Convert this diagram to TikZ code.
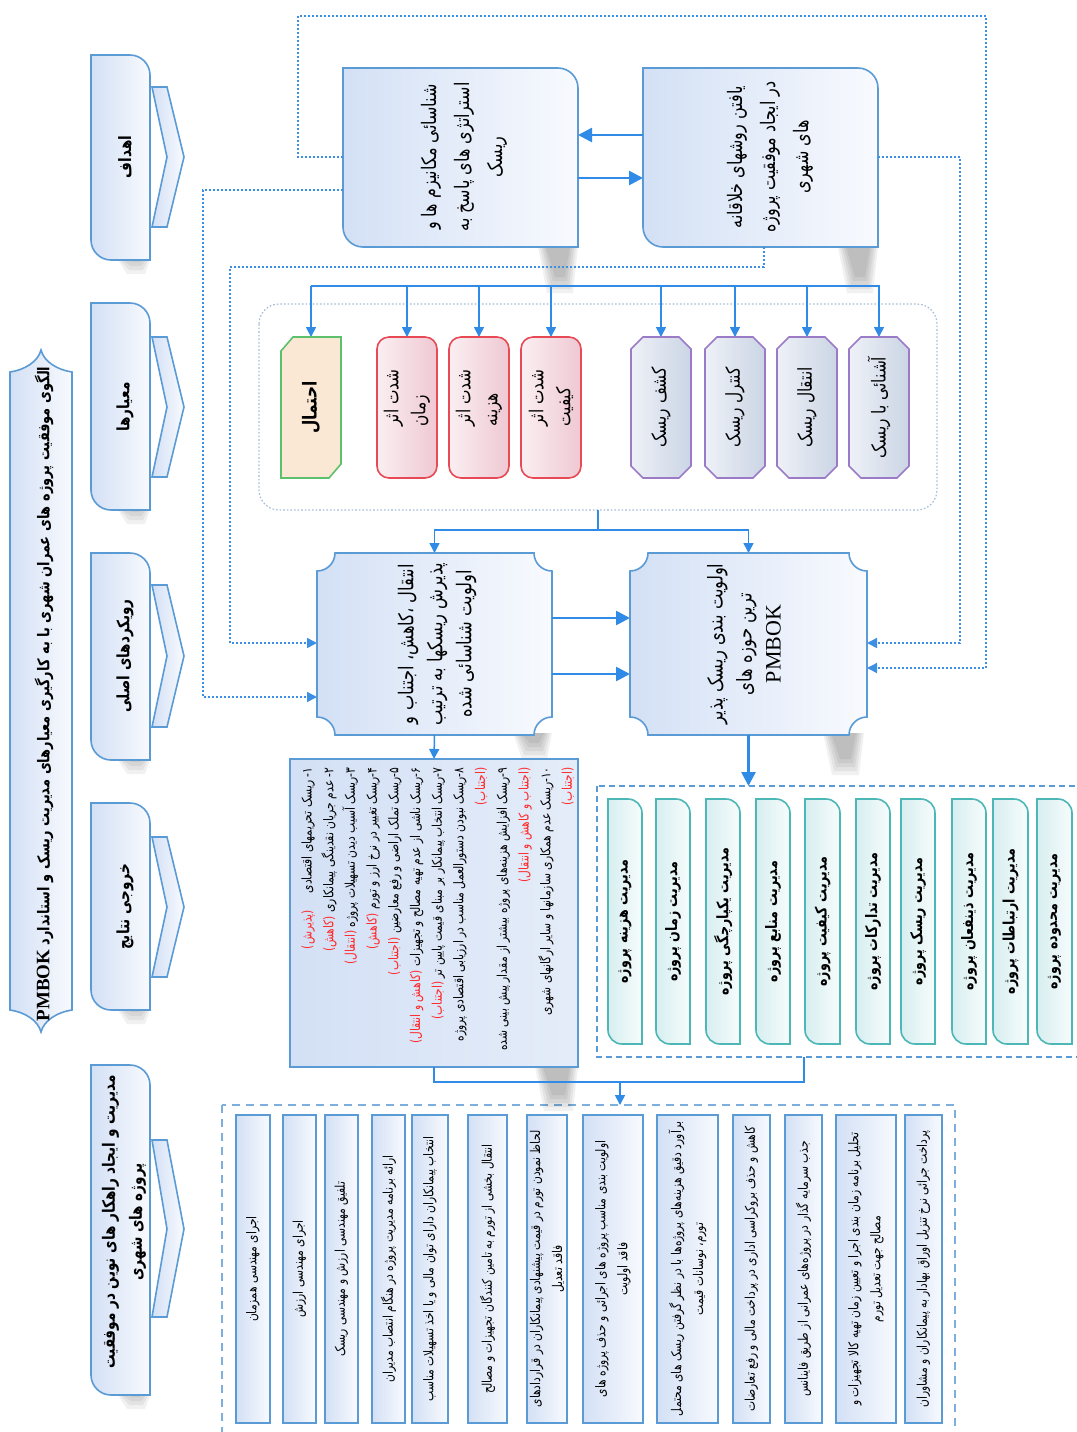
\documentclass[tikz,border=0pt]{standalone}
\usepackage{fontspec}
\usetikzlibrary{arrows.meta,fit}
\TeXXeTstate=1
\newfontfamily\fa[Script=Arabic,FakeStretch=0.8]{DejaVu Sans}
\newfontfamily\fared[Script=Arabic,FakeStretch=0.8,Color=FF2A2A]{DejaVu Sans}
\newfontfamily\latn{Liberation Serif}
\newcommand\rtxt[1]{\beginR#1\endR}
\definecolor{lineblue}{HTML}{2F8BE6}
\definecolor{dotblue}{HTML}{3C8FE2}
\definecolor{bord}{HTML}{5B9BD5}
\definecolor{fillA}{HTML}{D3E0F5}
\definecolor{fillB}{HTML}{F8FAFE}
\definecolor{redbd}{HTML}{E84A55}
\definecolor{redA}{HTML}{FAEFF2}
\definecolor{redB}{HTML}{EFC8D2}
\definecolor{purbd}{HTML}{9B7BC8}
\definecolor{purA}{HTML}{EEF1F7}
\definecolor{purB}{HTML}{CBD5E5}
\definecolor{grnbd}{HTML}{5CC06C}
\definecolor{beige}{HTML}{FBE8D4}
\definecolor{tealbd}{HTML}{4DB6B6}
\definecolor{tealA}{HTML}{D7EEF0}
\definecolor{tealB}{HTML}{F7FCFC}
\definecolor{contd}{HTML}{A5BCDA}
\newcommand\rd[1]{{\fared #1}}
\newcommand\area[5]{\path (#2,#3) coordinate (#1-a) (#4,#5) coordinate (#1-b);\node[inner sep=0pt,outer sep=0pt,fit=(#1-a)(#1-b)] (#1) {};}
\newcommand\shTRBL[6]{\path[#1] (#2,#3) -- ({#4-#6},#3) .. controls ({#4-0.45*#6},#3) and (#4,{#3+0.45*#6}) .. (#4,{#3+#6}) -- (#4,#5) -- ({#2+#6},#5) .. controls ({#2+0.45*#6},#5) and (#2,{#5-0.45*#6}) .. (#2,{#5-#6}) -- cycle;}
\newcommand\shNotch[6]{\path[#1] ({#2+#6},#3) -- ({#4-#6},#3) .. controls ({#4-#6},{#3+0.55*#6}) and ({#4-0.55*#6},{#3+#6}) .. (#4,{#3+#6}) -- (#4,{#5-#6}) .. controls ({#4-0.55*#6},{#5-#6}) and ({#4-#6},{#5-0.55*#6}) .. ({#4-#6},#5) -- ({#2+#6},#5) .. controls ({#2+#6},{#5-0.55*#6}) and ({#2+0.55*#6},{#5-#6}) .. (#2,{#5-#6}) -- (#2,{#3+#6}) .. controls ({#2+0.55*#6},{#3+#6}) and ({#2+#6},{#3+0.55*#6}) .. ({#2+#6},#3) -- cycle;}
\newcommand\shOct[6]{\path[#1] ({#2+#6},#3) -- ({#4-#6},#3) -- (#4,{#3+#6}) -- (#4,{#5-#6}) -- ({#4-#6},#5) -- ({#2+#6},#5) -- (#2,{#5-#6}) -- (#2,{#3+#6}) -- cycle;}
\newcommand\chev[4]{\path[#1] (152,#2) -- (167,#2) -- (184,#4) -- (167,#3) -- (152,#3) -- (167,#4) -- cycle;}
% soft shadow below a box edge: x1 x2 y0 depth
\newcommand\shd[4]{\foreach \k in {0,1,2,3,4} {\fill[black,opacity=0.055] ({#1+2*\k},#3) -- ({#2-2*\k},#3) -- ({#2-5-2*\k},{#3+#4-4*\k}) -- ({#1+9+2*\k},{#3+#4-4*\k}) -- cycle;}}
\tikzset{
 vt/.style={rotate=90,align=center,inner sep=0pt},
 bluebox/.style={draw=bord,line width=0.8pt,left color=fillA,right color=fillB},
 redbox/.style={draw=redbd,line width=0.8pt,left color=redA,right color=redB,rounded corners=6pt},
 purbox/.style={draw=purbd,line width=0.8pt,left color=purA,right color=purB},
 tealbox/.style={draw=tealbd,line width=0.8pt,left color=tealA,right color=tealB},
 botbox/.style={draw=bord,line width=1pt,left color=fillA,right color=fillB},
 thk/.style={draw=lineblue,line width=1.3pt,-{Triangle[length=7pt,width=7pt]}},
 thn/.style={draw=lineblue,line width=0.75pt,-{Triangle[length=5pt,width=5pt]}},
 thl/.style={draw=lineblue,line width=0.75pt},
 dotl/.style={draw=dotblue,line width=0.75pt,dash pattern=on 0.9pt off 1.1pt},
 dota/.style={dotl,-{Triangle[length=5pt,width=5pt]}},
 ftitle/.style={font={\fa\bfseries\fontsize{8.1}{12}\selectfont}},
 fcol/.style={font={\fa\bfseries\fontsize{8.5}{13.5}\selectfont}},
 ftop/.style={font={\fa\fontsize{10}{16.5}\selectfont}},
 fmid/.style={font={\fa\fontsize{10.2}{14.5}\selectfont}},
 frisk/.style={font={\fa\fontsize{9.6}{13.5}\selectfont}},
 flist/.style={font={\fa\fontsize{6.7}{10.85}\selectfont}},
 fgrn/.style={font={\fa\bfseries\fontsize{7.9}{10}\selectfont}},
 fbot/.style={font={\fa\fontsize{6.7}{11}\selectfont}},
}
\begin{document}
\begin{tikzpicture}[x=0.5pt,y=-0.5pt]
\useasboundingbox (0,0) rectangle (1077,1432);
\clip (0,0) rectangle (1077,1432);
\fill[white] (0,0) rectangle (1077,1432);

% ---------- title banner ----------
\path[draw=bord,line width=0.8pt,left color=fillA,right color=fillB] (10,372) .. controls (24,370) and (38,362) .. (41,350) .. controls (44,362) and (58,370) .. (72,372) -- (72,1010) .. controls (58,1012) and (44,1020) .. (41,1032) .. controls (38,1020) and (24,1012) .. (10,1010) -- cycle;
\area{title}{10}{350}{72}{1032}
\node[vt,ftitle] (titletext) at (44,694) {\rtxt{الگوی موفقیت پروژه های عمران شهری با به کارگیری معیارهای مدیریت ریسک و استاندارد \beginL{\latn\bfseries\fontsize{9.5}{12}\selectfont PMBOK}\endL}};

% ---------- left column ----------
\shd{118}{150}{260}{14}\shd{118}{150}{510}{14}\shd{118}{150}{760}{14}\shd{118}{150}{1010}{14}\shd{118}{150}{1395}{14}
\shTRBL{bluebox}{91}{55}{150}{260}{20}\chev{bluebox}{87}{227}{157}
\shTRBL{bluebox}{91}{303}{150}{510}{20}\chev{bluebox}{337}{477}{407}
\shTRBL{bluebox}{91}{553}{150}{760}{20}\chev{bluebox}{585}{727}{656}
\shTRBL{bluebox}{91}{803}{150}{1010}{20}\chev{bluebox}{837}{977}{907}
\shTRBL{bluebox}{91}{1065}{150}{1395}{20}\chev{bluebox}{1140}{1317}{1229}
\area{g1}{91}{55}{150}{260}\area{g2}{91}{303}{150}{510}\area{g3}{91}{553}{150}{760}\area{g4}{91}{803}{150}{1010}\area{g5}{91}{1065}{150}{1395}
\node[vt,fcol] (g1t) at (125,157) {\rtxt{اهداف}};
\node[vt,fcol] (g2t) at (125,407) {\rtxt{معیارها}};
\node[vt,fcol] (g3t) at (125,656) {\rtxt{رویکردهای اصلی}};
\node[vt,fcol] (g4t) at (125,907) {\rtxt{خروجی نتایج}};
\node[vt,fcol] (g5t) at (124,1222) {\rtxt{مدیریت و ایجاد راهکار های نوین در موفقیت}\\\rtxt{پروژه های شهری}};

% ---------- containers ----------
\area{RG}{259}{304}{937}{510}
\draw[contd,line width=0.6pt,dash pattern=on 0.8pt off 1pt,rounded corners=10pt] (RG-a) rectangle (RG-b);
\area{GC}{597}{786}{1085}{1057}
\draw[bord,line width=0.7pt,dash pattern=on 3pt off 2pt] (GC-a) rectangle (GC-b);
\area{BC}{222}{1105}{955}{1445}
\draw[bord!80,line width=0.9pt,dash pattern=on 4pt off 3pt] (BC-a) rectangle (BC-b);

% ---------- soft shadows ----------
\shd{538}{578}{247}{46}
\shd{838}{878}{247}{46}
\shd{513}{552}{733}{26}
\shd{823}{864}{733}{42}
\shd{535}{578}{1067}{44}

% ---------- top boxes ----------
\area{TL}{343}{68}{578}{247}
\area{TR}{643}{68}{878}{247}
\shTRBL{bluebox}{343}{68}{578}{247}{20}
\shTRBL{bluebox}{643}{68}{878}{247}{20}
\node[vt,ftop] (TLt) at (464,157) {\rtxt{شناسائی مکانیزم ها و}\\\rtxt{استراتژی های پاسخ به}\\\rtxt{ریسک}};
\node[vt,ftop] (TRt) at (770,157) {\rtxt{یافتن روشهای خلاقانه}\\\rtxt{در ایجاد موفقیت پروژه}\\\rtxt{های شهری}};
\draw[thk] (TR.west |- 0,135) -- (TL.east |- 0,135);
\draw[thk] (TL.east |- 0,178) -- (TR.west |- 0,178);

% ---------- dotted feedback connectors ----------
\area{ML}{317}{553}{552}{735}
\area{MR}{630}{553}{867}{735}
\draw[dota] (TL.west |- 0,157) -- (298,157) -- (298,16) -- (986,16) -- (986,668) -- (MR.east |- 0,668);
\draw[dota] (TL.west |- 0,190) -- (203,190) -- (203,697) -- (ML.west |- 0,697);
\draw[dota] (TR.east |- 0,157) -- (960,157) -- (960,643) -- (MR.east |- 0,643);
\draw[dota] (TR.south -| 764,0) -- (764,267) -- (230,267) -- (230,643) -- (ML.west |- 0,643);

% ---------- risk boxes ----------
\area{rp}{281}{337}{341}{478}
\area{rz}{377}{337}{437}{478}
\area{rh}{449}{337}{509}{478}
\area{rk}{521}{337}{581}{478}
\area{uk}{631}{337}{691}{478}
\area{uc}{705}{337}{765}{478}
\area{ut}{777}{337}{837}{478}
\area{ua}{849}{337}{909}{478}
\coordinate (busL) at (311,286);
\coordinate (busR) at (880,286);
\draw[thl] (busL) -- (busR);
\foreach \b in {rp,rz,rh,rk,uk,uc,ut,ua} {\draw[thn] (\b.north |- busL) -- (\b.north);}
\path[draw=grnbd,line width=0.8pt,fill=beige] (293,337) -- (341,337) -- (341,464) -- (329,478) -- (281,478) -- (281,351) -- cycle;
\draw[redbox] (rz-a) rectangle (rz-b);
\draw[redbox] (rh-a) rectangle (rh-b);
\draw[redbox] (rk-a) rectangle (rk-b);
\shOct{purbox}{631}{337}{691}{478}{12}
\shOct{purbox}{705}{337}{765}{478}{12}
\shOct{purbox}{777}{337}{837}{478}{12}
\shOct{purbox}{849}{337}{909}{478}{12}
\node[vt,font={\fa\bfseries\fontsize{9.6}{13}\selectfont}] (rpt) at (rp) {\rtxt{احتمال}};
\node[vt,frisk,align=left] (rzt) at (407,398) {\rtxt{شدت اثر}\\\rtxt{زمان}};
\node[vt,frisk,align=left] (rht) at (479,398) {\rtxt{شدت اثر}\\\rtxt{هزینه}};
\node[vt,frisk,align=left] (rkt) at (551,398) {\rtxt{شدت اثر}\\\rtxt{کیفیت}};
\node[vt,frisk] (ukt) at (uk) {\rtxt{کشف ریسک}};
\node[vt,frisk] (uct) at (uc) {\rtxt{کنترل ریسک}};
\node[vt,frisk] (utt) at (ut) {\rtxt{انتقال ریسک}};
\node[vt,frisk] (uat) at (ua) {\rtxt{آشنائی با ریسک}};

% ---------- middle boxes ----------
\coordinate (split) at (598,530);
\draw[thl] (RG.south) -- (split);
\draw[thn] (split) -| (ML.north);
\draw[thn] (split) -| (MR.north);
\shNotch{bluebox}{317}{553}{552}{735}{18}
\shNotch{bluebox}{630}{553}{867}{735}{18}
\node[vt,fmid] (MLt) at (437,644) {\rtxt{انتقال ،کاهش، اجتناب و}\\\rtxt{پذیرش ریسکها به ترتیب}\\\rtxt{اولویت شناسائی شده}};
\node[vt,fmid] (MRt) at (744,644) {\rtxt{اولویت بندی ریسک پذیر}\\\rtxt{ترین حوزه های}\\{\latn\fontsize{11}{14}\selectfont PMBOK}};
\draw[thk] (ML.east |- 0,618) -- (MR.west |- 0,618);
\draw[thk] (ML.east |- 0,674) -- (MR.west |- 0,674);

% ---------- risk list ----------
\area{RL}{290}{759}{578}{1067}
\draw[thn] (ML.south) -- (RL.north);
\draw[draw=bord,line width=1pt,left color=fillA,right color=fillA!60] (RL-a) rectangle (RL-b);
\node[vt,flist,align=right,anchor=north east] (RLt) at (301,767) {%
\rtxt{۱- ریسک تحریمهای اقتصادی \quad\rd{(پذیرش)}}\\
\rtxt{۲- عدم جریان نقدینگی پیمانکاری \rd{(کاهش)}}\\
\rtxt{۳-ریسک آسیب دیدن تسهیلات پروژه \rd{(انتقال)}}\\
\rtxt{۴-ریسک تغییر در نرخ ارز و تورم \rd{(کاهش)}}\\
\rtxt{۵-ریسک تملک اراضی و رفع معارضین \rd{(اجتناب)}}\\
\rtxt{۶-ریسک ناشی از عدم تهیه مصالح و تجهیزات \rd{(کاهش و انتقال)}}\\
\rtxt{۷-ریسک انتخاب پیمانکار بر مبنای قیمت پایین تر \rd{(اجتناب)}}\\
\rtxt{۸-ریسک نبودن دستورالعمل مناسب در ارزیابی اقتصادی پروژه}\\
\rtxt{\rd{(اجتناب)}}\\
\rtxt{۹-ریسک افزایش هزینه^^^^200cهای پروژه بیشتر از مقدار پیش بینی شده}\\
\rtxt{\rd{(اجتناب و کاهش و انتقال)}}\\
\rtxt{۱۰-ریسک عدم همکاری سازمانها و سایر ارگانهای شهری}\\
\rtxt{\rd{(اجتناب)}}};

% ---------- PMBOK areas ----------
\draw[thk] (MR.south) -- (MR.south |- GC.north);
\foreach \n/\xa/\xb/\t in {k1/608/642/{مدیریت هزینه پروژه},k2/656/690/{مدیریت زمان پروژه},k3/706/740/{مدیریت یکپارچگی پروژه},k4/756/790/{مدیریت منابع پروژه},k5/805/840/{مدیریت کیفیت پروژه},k6/856/890/{مدیریت تدارکات پروژه},k7/901/935/{مدیریت ریسک پروژه},k8/952/986/{مدیریت ذینفعان پروژه},k9/993/1028/{مدیریت ارتباطات پروژه},k10/1037/1072/{مدیریت محدوده پروژه}} {
 \area{\n}{\xa}{799}{\xb}{1044}
 \shTRBL{tealbox}{\xa}{799}{\xb}{1044}{14}
 \node[vt,fgrn] (\n t) at (\n) {\rtxt{\t}};
}

% ---------- joins to solutions ----------
\coordinate (jL) at (434,1082);
\coordinate (jR) at (804,1082);
\draw[thl] (RL.south) -- (jL) -- (jR) -- (jR |- GC.south);
\coordinate (jM) at (620,1082);
\draw[thn] (jM) -- (jM |- BC.north);

% ---------- solutions ----------
\foreach \n/\xa/\xb/\t in {
 s1/236/270/{\rtxt{اجرای مهندسی همزمان}},
 s2/283/316/{\rtxt{اجرای مهندسی ارزش}},
 s3/325/358/{\rtxt{تلفیق مهندسی ارزش و مهندسی ریسک}},
 s4/372/405/{\rtxt{ارائه برنامه مدیریت پروژه در هنگام انتصاب مدیران}},
 s5/412/448/{\rtxt{انتخاب پیمانکاران دارای توان مالی و یا اخذ تسهیلات مناسب}},
 s6/468/507/{\rtxt{انتقال بخشی از تورم به تامین کنندگان تجهیزات و مصالح}},
 s7/527/567/{\rtxt{لحاظ نمودن تورم در قیمت پیشنهادی پیمانکاران در قراردادهای}\\\rtxt{فاقد تعدیل}},
 s8/583/643/{\rtxt{اولویت بندی مناسب پروژه های اجرائی و حذف پروژه های}\\\rtxt{فاقد اولویت}},
 s9/657/718/{\rtxt{برآورد دقیق هزینه^^^^200cهای پروژه^^^^200cها با در نظر گرفتن ریسک های محتمل}\\\rtxt{تورم، نوسانات قیمت}},
 s10/733/770/{\rtxt{کاهش و حذف بروکراسی اداری در پرداخت مالی و رفع تعارضات}},
 s11/785/822/{\rtxt{جذب سرمایه گذار در پروژه^^^^200cهای عمرانی از طریق فاینانس}},
 s12/836/896/{\rtxt{تحلیل برنامه زمان بندی اجرا و تعیین زمان تهیه کالا تجهیزات و}\\\rtxt{مصالح جهت تعدیل تورم}},
 s13/905/942/{\rtxt{پرداخت جرائی نرخ تنزیل اوراق بهادار به پیمانکاران و مشاوران}}} {
 \area{\n}{\xa}{1115}{\xb}{1423}
 \draw[botbox] (\n-a) rectangle (\n-b);
 \node[vt,fbot] (\n t) at (\n) {\t};
}
\end{tikzpicture}
\end{document}
